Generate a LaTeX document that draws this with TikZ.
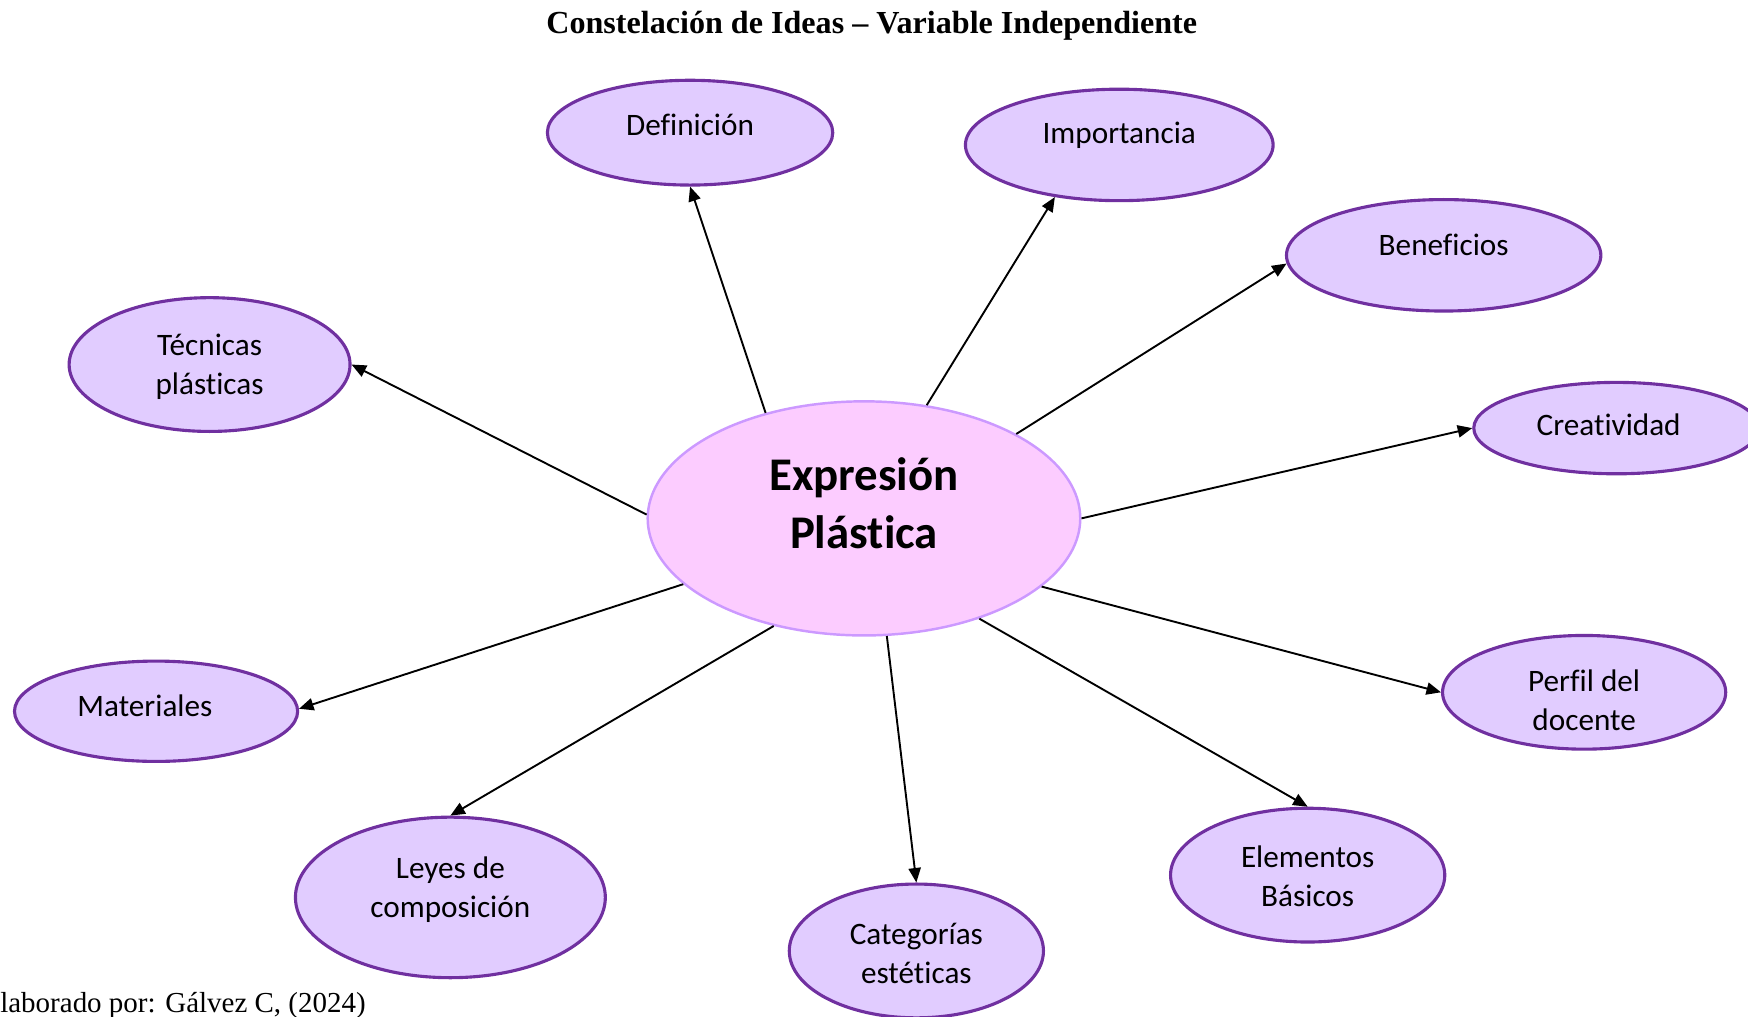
\documentclass[tikz,border=0pt]{standalone}
\usepackage{fontspec}
\setmainfont{Liberation Serif}
\newfontfamily\calib[Ligatures=NoCommon]{Carlito}
\usetikzlibrary{shapes.geometric,arrows.meta}
\definecolor{outerfill}{RGB}{225,204,255}
\definecolor{outerdraw}{RGB}{112,48,160}
\definecolor{centfill}{RGB}{252,204,255}
\definecolor{centdraw}{RGB}{204,153,255}
\tikzset{
  idea/.style={ellipse,draw=outerdraw,fill=outerfill,line width=1.4pt,inner sep=0pt},
  ideatext/.style={font=\calib\fontsize{14}{17.5}\selectfont,align=center,inner sep=0pt},
  conn/.style={-{Triangle[length=6.5pt,width=5.5pt]},line width=0.85pt,black}
}
\begin{document}
\begin{tikzpicture}[x=0.5pt,y=-0.5pt]
\useasboundingbox (0,0) rectangle (1568,912);
\clip (0,0) rectangle (1568,912);
% title & caption
\node[font=\fontsize{14.4}{16}\selectfont\bfseries,inner sep=0pt] (title) at (782,23) {Constelación de Ideas – Variable Independiente};
\node[font=\fontsize{13}{15}\selectfont,inner sep=0pt,anchor=base west] (caption) at (-16,908) {Elaborado por: Gálvez C, (2024)};
% center
\node[ellipse,draw=centdraw,fill=centfill,line width=1.1pt,inner sep=0pt,minimum width=194pt,minimum height=105pt] (c) at (775,465) {};
\node[font=\calib\bfseries\fontsize{21}{26}\selectfont,align=center,inner sep=0pt] (cT) at (775,451) {Expresión\\Plástica};
% outer ideas
\node[idea,minimum width=128pt,minimum height=47pt] (def) at (619,119) {};
\node[ideatext] (defT) at (619,112) {Definición};
\node[idea,minimum width=138pt,minimum height=50pt] (imp) at (1004,130) {};
\node[ideatext] (impT) at (1004,121) {Importancia};
\node[idea,minimum width=141pt,minimum height=50pt] (ben) at (1295,229) {};
\node[ideatext] (benT) at (1295,220) {Beneficios};
\node[idea,minimum width=128pt,minimum height=41pt] (cre) at (1450,384) {};
\node[ideatext] (creT) at (1443,381) {Creatividad};
\node[idea,minimum width=126pt,minimum height=60pt] (tec) at (188,327) {};
\node[ideatext] (tecT) at (188,329) {Técnicas\\plásticas};
\node[idea,minimum width=127pt,minimum height=45pt] (mat) at (140,638) {};
\node[ideatext] (matT) at (130,633) {Materiales};
\node[idea,minimum width=139pt,minimum height=72pt] (ley) at (404,805) {};
\node[ideatext] (leyT) at (404,798) {Leyes de\\composición};
\node[idea,minimum width=114pt,minimum height=60pt] (cat) at (822,853) {};
\node[ideatext] (catT) at (822,855) {Categorías\\estéticas};
\node[idea,minimum width=123pt,minimum height=60pt] (ele) at (1173,785) {};
\node[ideatext] (eleT) at (1173,786) {Elementos\\Básicos};
\node[idea,minimum width=127pt,minimum height=51pt] (per) at (1421,621) {};
\node[ideatext] (perT) at (1421,628) {Perfil del\\docente};
% connectors
\draw[conn] (c.133.5) -- (def.270);
\draw[conn] (c.61.5) -- (imp.219);
\draw[conn] (c.29.5) -- (ben.183);
\draw[conn] (c.-0.6) -- (cre.180);
\draw[conn] (c.179.4) -- (tec.0);
\draw[conn] (c.200.3) -- (mat.1);
\draw[conn] (c.230.1) -- (ley.90);
\draw[conn] (c.281.7) -- (cat.90);
\draw[conn] (c.319.6) -- (ele.90);
\draw[conn] (c.339.4) -- (per.180);
\end{tikzpicture}
\end{document}
